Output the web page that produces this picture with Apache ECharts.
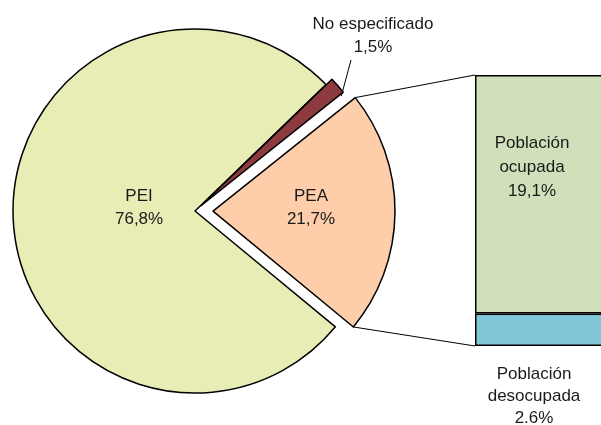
<!DOCTYPE html>
<html>
<head>
<meta charset="utf-8">
<script src="https://cdn.jsdelivr.net/npm/echarts@6/dist/echarts.min.js"></script>
<style>
  html, body { margin: 0; padding: 0; background: #fff; }
  #main { width: 601px; height: 425px; }
</style>
</head>
<body>
<div id="main"></div>
<script>
// pie: clockwise from the top-right gap
let sliceNames = ['No especificado', 'PEA', 'PEI']
let sliceValues = [1.5, 21.7, 76.8]
let sliceColors = ['#8e3b3f', '#fdcea9', '#e8edb6']
let sliceExplode = [8, 18, 0]

// bar of the PEA breakdown (bottom first)
let barNames = ['Población desocupada', 'Población ocupada']
let barValues = [2.6, 19.1]
let barLabels = ['2.6%', '19,1%']
let barColors = ['#80c7d7', '#cfe0bb']

let font = 'Liberation Sans, Arial, sans-serif'
let pieCenter = [195, 211]
let pieR = 182
let startAngle = 44
let grid = {left: 475, top: 75, width: 160, height: 271, outerBoundsMode: 'none'}

let total = sliceValues.reduce((a, b) => a + b, 0)
let barTotal = barValues.reduce((a, b) => a + b, 0)
let rad = d => d * Math.PI / 180

// slice angles and exploded centers
let angles = []
let acc = startAngle
sliceValues.forEach(v => {
  let a0 = acc
  acc -= v / total * 360
  angles.push([a0, acc])
})
let centers = angles.map((a, i) => {
  let mid = rad((a[0] + a[1]) / 2)
  return [pieCenter[0] + sliceExplode[i] * Math.cos(mid), pieCenter[1] - sliceExplode[i] * Math.sin(mid)]
})

let pctText = v => String(v).replace('.', ',') + '%'

// leader line of the small slice: from its right edge up to the label
let leadA = rad(angles[0][1] - 0.6)
let leadStart = [centers[0][0] + (pieR - 4) * Math.cos(leadA), centers[0][1] - (pieR - 4) * Math.sin(leadA)]
let leadEnd = [351, 60]

function pieSeries(idx){
  return {
    type: 'pie',
    radius: pieR,
    center: centers[idx],
    startAngle: startAngle,
    clockwise: true,
    silent: true,
    animation: false,
    avoidLabelOverlap: false,
    minAngle: 0,
    data: sliceNames.map((n, i) => ({
      name: n,
      value: sliceValues[i],
      itemStyle: i === idx
        ? {color: sliceColors[i], borderColor: '#000', borderWidth: 1.5}
        : {color: 'rgba(0,0,0,0)', borderWidth: 0},
      label: {show: i === idx},
      labelLine: {show: i === idx && idx === 0}
    })),
    label: {
      position: idx === 0 ? 'outside' : 'inside',
      formatter: p => p.name + '\n' + pctText(p.value),
      color: '#1a1a1a',
      fontFamily: font,
      fontSize: 17,
      lineHeight: 23,
      align: 'center'
    },
    labelLine: {
      lineStyle: {color: '#000', width: 1},
      length: 20,
      length2: 0
    },
    labelLayout: p => {
      if (p.dataIndex !== idx) return {}
      if (idx === 0) {
        let mid = [(leadStart[0] + leadEnd[0]) / 2, (leadStart[1] + leadEnd[1]) / 2]
        return {x: 373, y: 36, align: 'center', verticalAlign: 'middle', labelLinePoints: [leadStart, mid, leadEnd]}
      }
      if (idx === 1) return {dx: 2, dy: -2}
      return {dx: 19, dy: -3.5}
    }
  }
}

function barSeries(i, labelOpt){
  return {
    type: 'bar',
    stack: 'pea',
    barWidth: '100%',
    silent: true,
    data: [{value: barValues[i], itemStyle: {color: barColors[i]}}],
    itemStyle: {borderColor: '#000', borderWidth: 1.5},
    label: Object.assign({
      show: true,
      formatter: () => barNames[i].replace(' ', '\n') + '\n' + barLabels[i],
      color: '#1a1a1a',
      fontFamily: font,
      fontSize: 17
    }, labelOpt)
  }
}

let chart = echarts.init(document.getElementById('main'))
let option = {
  animation: false,
  backgroundColor: '#fff',
  grid: grid,
  xAxis: {type: 'category', data: [''], show: false},
  yAxis: {type: 'value', min: 0, max: barTotal, show: false},
  series: [
    pieSeries(2),
    pieSeries(0),
    pieSeries(1),
    barSeries(0, {position: 'bottom', distance: 17, offset: [-21, 0], lineHeight: 22}),
    barSeries(1, {position: 'inside', offset: [-23, -27], lineHeight: 24})
  ]
}
chart.setOption(option)

// connector lines from the PEA slice corners to the bar
let pea = 1
let c = centers[pea]
let topCorner = [c[0] + pieR * Math.cos(rad(angles[pea][0])), c[1] - pieR * Math.sin(rad(angles[pea][0]))]
let botCorner = [c[0] + pieR * Math.cos(rad(angles[pea][1])), c[1] - pieR * Math.sin(rad(angles[pea][1]))]
let barTop = chart.convertToPixel({yAxisIndex: 0}, barTotal)
let barBot = chart.convertToPixel({yAxisIndex: 0}, 0)
chart.setOption({
  graphic: [
    {type: 'line', silent: true, z: 1, shape: {x1: topCorner[0], y1: topCorner[1], x2: grid.left, y2: barTop}, style: {stroke: '#000', lineWidth: 1}},
    {type: 'line', silent: true, z: 1, shape: {x1: botCorner[0], y1: botCorner[1], x2: grid.left, y2: barBot}, style: {stroke: '#000', lineWidth: 1}}
  ]
})
</script>
</body>
</html>
